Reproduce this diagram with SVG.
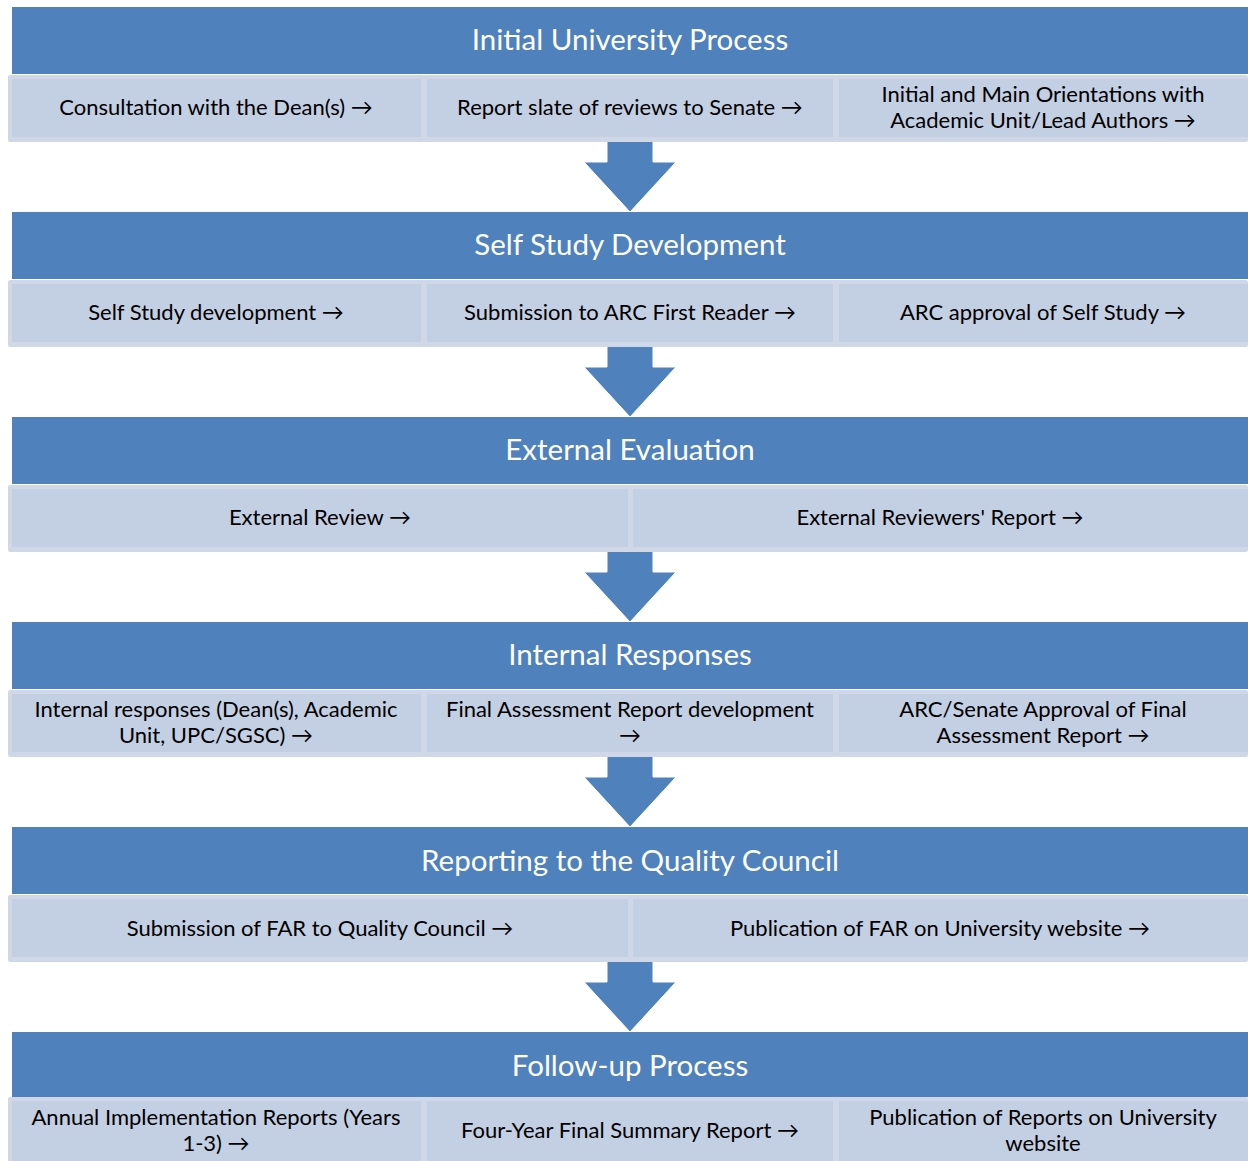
<svg xmlns="http://www.w3.org/2000/svg" width="1248" height="1161" viewBox="0 0 1248 1161">
<defs>
<style>
.hdr{fill:#4F81BD}
.ob{fill:#D0D8E8}
.ib{fill:#C3CFE3}
.arr{fill:#4F81BD;stroke:#FFFFFF;stroke-width:1}
.ht{font-family:Lato,"Open Sans","Liberation Sans",sans-serif;font-size:29.5px;fill:#FFFFFF;text-anchor:middle}
.st{font-family:Lato,"Open Sans","Liberation Sans",sans-serif;font-size:22px;fill:#000000;text-anchor:middle}
</style>
</defs>
<rect width="1248" height="1161" fill="#FFFFFF"/>

<g id="connectors">
<path class="arr" d="M607,141 H653 V162 H676 L630,212 L584,162 H607 Z"/>
<path class="arr" d="M607,346 H653 V367 H676 L630,417 L584,367 H607 Z"/>
<path class="arr" d="M607,551 H653 V572 H676 L630,622 L584,572 H607 Z"/>
<path class="arr" d="M607,756 H653 V777 H676 L630,827 L584,777 H607 Z"/>
<path class="arr" d="M607,961 H653 V982 H676 L630,1032 L584,982 H607 Z"/>
</g>

<!-- Row 1 -->
<g id="h1"><rect class="hdr" x="12" y="7" width="1236" height="67"/><text class="ht" x="630" y="50">Initial University Process</text></g>
<g id="n1a"><rect class="ob" x="8" y="75" width="417" height="67" rx="2"/><rect class="ib" x="12" y="79" width="409" height="58"/><text class="st" x="216" y="115">Consultation with the Dean(s) →</text></g>
<g id="n1b"><rect class="ob" x="423" y="75" width="414" height="67" rx="2"/><rect class="ib" x="427" y="79" width="406" height="58"/><text class="st" x="630" y="115">Report slate of reviews to Senate →</text></g>
<g id="n1c"><rect class="ob" x="835" y="75" width="413" height="67" rx="2"/><rect class="ib" x="839" y="79" width="409" height="58"/><text class="st" x="1043" y="102">Initial and Main Orientations with</text><text class="st" x="1043" y="128">Academic Unit/Lead Authors →</text></g>

<!-- Row 2 -->
<g id="h2"><rect class="hdr" x="12" y="212" width="1236" height="67"/><text class="ht" x="630" y="255">Self Study Development</text></g>
<g id="n2a"><rect class="ob" x="8" y="280" width="417" height="67" rx="2"/><rect class="ib" x="12" y="284" width="409" height="58"/><text class="st" x="216" y="320">Self Study development →</text></g>
<g id="n2b"><rect class="ob" x="423" y="280" width="414" height="67" rx="2"/><rect class="ib" x="427" y="284" width="406" height="58"/><text class="st" x="630" y="320">Submission to ARC First Reader →</text></g>
<g id="n2c"><rect class="ob" x="835" y="280" width="413" height="67" rx="2"/><rect class="ib" x="839" y="284" width="409" height="58"/><text class="st" x="1043" y="320">ARC approval of Self Study →</text></g>

<!-- Row 3 -->
<g id="h3"><rect class="hdr" x="12" y="417" width="1236" height="67"/><text class="ht" x="630" y="460">External Evaluation</text></g>
<g id="n3a"><rect class="ob" x="8" y="485" width="624" height="67" rx="2"/><rect class="ib" x="12" y="489" width="616" height="58"/><text class="st" x="320" y="525">External Review →</text></g>
<g id="n3b"><rect class="ob" x="629" y="485" width="619" height="67" rx="2"/><rect class="ib" x="633" y="489" width="615" height="58"/><text class="st" x="940" y="525">External Reviewers' Report →</text></g>

<!-- Row 4 -->
<g id="h4"><rect class="hdr" x="12" y="622" width="1236" height="67"/><text class="ht" x="630" y="665">Internal Responses</text></g>
<g id="n4a"><rect class="ob" x="8" y="690" width="417" height="67" rx="2"/><rect class="ib" x="12" y="694" width="409" height="58"/><text class="st" x="216" y="717">Internal responses (Dean(s), Academic</text><text class="st" x="216" y="743">Unit, UPC/SGSC) →</text></g>
<g id="n4b"><rect class="ob" x="423" y="690" width="414" height="67" rx="2"/><rect class="ib" x="427" y="694" width="406" height="58"/><text class="st" x="630" y="717">Final Assessment Report development</text><text class="st" x="630" y="743">→</text></g>
<g id="n4c"><rect class="ob" x="835" y="690" width="413" height="67" rx="2"/><rect class="ib" x="839" y="694" width="409" height="58"/><text class="st" x="1043" y="717">ARC/Senate Approval of Final</text><text class="st" x="1043" y="743">Assessment Report →</text></g>

<!-- Row 5 -->
<g id="h5"><rect class="hdr" x="12" y="827" width="1236" height="67"/><text class="ht" x="630" y="871">Reporting to the Quality Council</text></g>
<g id="n5a"><rect class="ob" x="8" y="895" width="624" height="67" rx="2"/><rect class="ib" x="12" y="899" width="616" height="58"/><text class="st" x="320" y="936">Submission of FAR to Quality Council →</text></g>
<g id="n5b"><rect class="ob" x="629" y="895" width="619" height="67" rx="2"/><rect class="ib" x="633" y="899" width="615" height="58"/><text class="st" x="940" y="936">Publication of FAR on University website →</text></g>

<!-- Row 6 -->
<g id="h6"><rect class="hdr" x="12" y="1032" width="1236" height="65"/><text class="ht" x="630" y="1076">Follow-up Process</text></g>
<g id="n6a"><rect class="ob" x="8" y="1097" width="417" height="67" rx="2"/><rect class="ib" x="12" y="1101" width="409" height="60"/><text class="st" x="216" y="1125">Annual Implementation Reports (Years</text><text class="st" x="216" y="1151">1-3) →</text></g>
<g id="n6b"><rect class="ob" x="423" y="1097" width="414" height="67" rx="2"/><rect class="ib" x="427" y="1101" width="406" height="60"/><text class="st" x="630" y="1138">Four-Year Final Summary Report →</text></g>
<g id="n6c"><rect class="ob" x="835" y="1097" width="413" height="67" rx="2"/><rect class="ib" x="839" y="1101" width="409" height="60"/><text class="st" x="1043" y="1125">Publication of Reports on University</text><text class="st" x="1043" y="1151">website</text></g>
</svg>
